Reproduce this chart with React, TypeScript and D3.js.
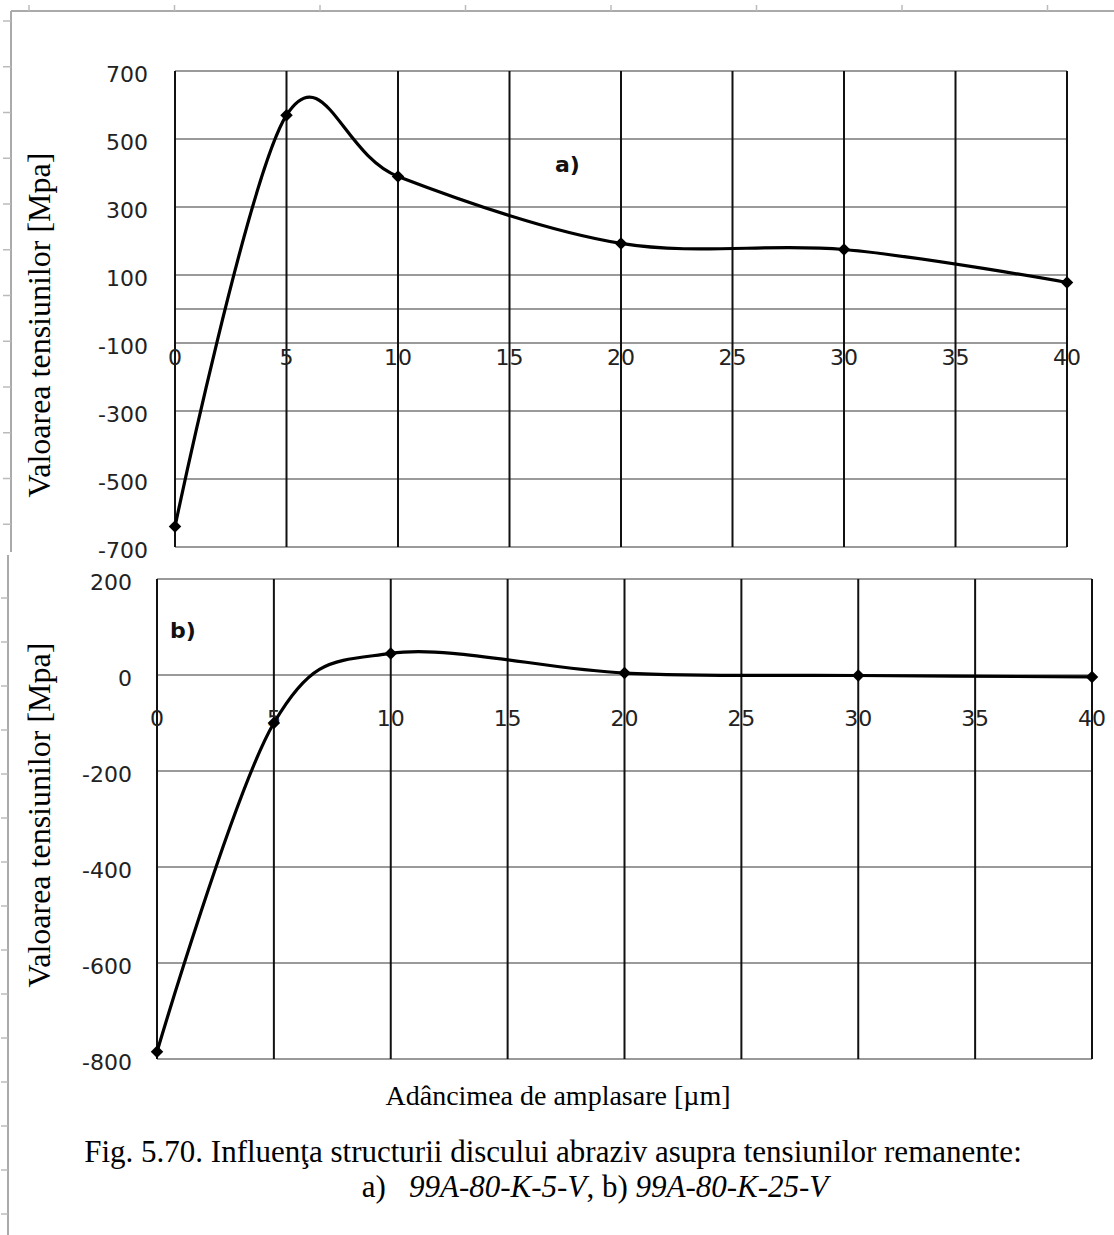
import React from "react";
import * as d3 from "d3";

// ---- data ----
const xTicks = [0, 5, 10, 15, 20, 25, 30, 35, 40];

const aX = [0, 5, 10, 20, 30, 40];
const aY = [-640, 570, 390, 193, 175, 78];
const aYTickLabels = [700, 500, 300, 100, -100, -300, -500, -700];
const aGridY = [700, 500, 300, 100, 0, -100, -300, -500, -700];

const bX = [0, 5, 10, 20, 30, 40];
const bY = [-785, -100, 45, 4, -1, -4];
const bYTickLabels = [200, 0, -200, -400, -600, -800];

const yTitle = "Valoarea tensiunilor [Mpa]";
const xTitle = "Adâncimea de amplasare [µm]";
const captionLine1 = "Fig. 5.70. Influenţa structurii discului abraziv asupra tensiunilor remanente:";
const captionA = "99A-80-K-5-V";
const captionB = "99A-80-K-25-V";

const W = 1114;
const H = 1235;

const tickFont = "DejaVu Sans, Verdana, sans-serif";
const serif = "Liberation Serif, Times New Roman, serif";

function Panel(props: {
  xs: number[];
  ys: number[];
  xDomain: [number, number];
  yDomain: [number, number];
  xRange: [number, number];
  yRange: [number, number];
  gridY: number[];
  yLabels: number[];
  yLabelRight: number;
  xLabelBaseline: number;
  tag: string;
  tagX: number;
  tagY: number;
  titleCx: number;
  titleCy: number;
  titleSize: number;
}) {
  const x = d3.scaleLinear().domain(props.xDomain).range(props.xRange);
  const y = d3.scaleLinear().domain(props.yDomain).range(props.yRange);
  const pts = props.xs.map((v, i) => [x(v), y(props.ys[i])] as [number, number]);
  const line = d3.line().curve(d3.curveCardinal.tension(0))(pts) || "";
  const marker = d3.symbol().type(d3.symbolSquare).size(78)() || "";
  const [x0, x1] = props.xRange;
  const [yb, yt] = props.yRange;
  return (
    <g>
      {props.gridY.map((v) => (
        <line key={"h" + v} x1={x0} x2={x1} y1={y(v)} y2={y(v)} stroke="#9a9a9a" strokeWidth={2} />
      ))}
      {xTicks.map((v) => (
        <line key={"v" + v} x1={x(v)} x2={x(v)} y1={yt} y2={yb} stroke="#111" strokeWidth={2} />
      ))}
      {props.yLabels.map((v) => (
        <text
          key={"yl" + v}
          x={props.yLabelRight}
          y={y(v) + 11}
          textAnchor="end"
          fontFamily={tickFont}
          fontSize={22}
          fill="#222"
        >
          {v < 0 ? "-" + Math.abs(v) : String(v)}
        </text>
      ))}
      {xTicks.map((v) => (
        <text
          key={"xl" + v}
          x={x(v)}
          y={props.xLabelBaseline}
          textAnchor="middle"
          fontFamily={tickFont}
          fontSize={22}
          fill="#222"
        >
          {v}
        </text>
      ))}
      <path d={line} fill="none" stroke="#000" strokeWidth={3.2} />
      {pts.map((p, i) => (
        <path key={"m" + i} d={marker} transform={`translate(${p[0]},${p[1]}) rotate(45)`} fill="#000" />
      ))}
      <text x={props.tagX} y={props.tagY} fontFamily={tickFont} fontWeight="bold" fontSize={22} fill="#111">
        {props.tag}
      </text>
      <text
        transform={`translate(${props.titleCx},${props.titleCy}) rotate(-90)`}
        textAnchor="middle"
        fontFamily={serif}
        fontSize={props.titleSize}
        fill="#000"
      >
        {yTitle}
      </text>
    </g>
  );
}

export default function App() {
  const topTicks = d3.range(8).map((i) => 29 + i * 145.5);
  const leftTicksTop = d3.range(12).map((i) => 21 + i * 45.75);
  const leftTicksBottom = d3.range(15).map((i) => 598 + i * 44);
  return (
    <svg
      width={W}
      height={H}
      viewBox={`0 0 ${W} ${H}`}
      style={{ position: "absolute", left: 0, top: 0, background: "#fff" }}
    >
      <rect x={0} y={0} width={W} height={H} fill="#fff" />
      {/* page frame / ruler */}
      <line x1={11} x2={W} y1={11} y2={11} stroke="#aaa" strokeWidth={2} />
      <line x1={11} x2={11} y1={11} y2={552} stroke="#aaa" strokeWidth={2} />
      <line x1={8} x2={8} y1={555} y2={H} stroke="#aaa" strokeWidth={2} />
      {topTicks.map((t) => (
        <line key={"tt" + t} x1={t} x2={t} y1={5} y2={11} stroke="#bbb" strokeWidth={1.5} />
      ))}
      {leftTicksTop.map((t) => (
        <line key={"lt" + t} x1={3} x2={11} y1={t} y2={t} stroke="#bbb" strokeWidth={1.5} />
      ))}
      {leftTicksBottom.map((t) => (
        <line key={"lb" + t} x1={1} x2={8} y1={t} y2={t} stroke="#bbb" strokeWidth={1.5} />
      ))}

      <Panel
        xs={aX}
        ys={aY}
        xDomain={[0, 40]}
        yDomain={[-700, 700]}
        xRange={[175, 1067]}
        yRange={[547, 71]}
        gridY={aGridY}
        yLabels={aYTickLabels}
        yLabelRight={148}
        xLabelBaseline={365}
        tag="a)"
        tagX={555}
        tagY={172}
        titleCx={50}
        titleCy={325}
        titleSize={32}
      />
      <Panel
        xs={bX}
        ys={bY}
        xDomain={[0, 40]}
        yDomain={[-800, 200]}
        xRange={[157, 1092]}
        yRange={[1059, 579]}
        gridY={bYTickLabels}
        yLabels={bYTickLabels}
        yLabelRight={132}
        xLabelBaseline={726}
        tag="b)"
        tagX={170}
        tagY={638}
        titleCx={50}
        titleCy={815}
        titleSize={32}
      />

      <text x={558} y={1105} textAnchor="middle" fontFamily={serif} fontSize={28} fill="#000">
        {xTitle}
      </text>
      <text x={553} y={1162} textAnchor="middle" fontFamily={serif} fontSize={31} fill="#000">
        {captionLine1}
      </text>
      <text x={595} y={1197} textAnchor="middle" fontFamily={serif} fontSize={31} fill="#000" style={{ whiteSpace: "pre" }}>
        <tspan>{"a)   "}</tspan>
        <tspan fontStyle="italic">{captionA}</tspan>
        <tspan>{", b) "}</tspan>
        <tspan fontStyle="italic">{captionB}</tspan>
      </text>
    </svg>
  );
}
